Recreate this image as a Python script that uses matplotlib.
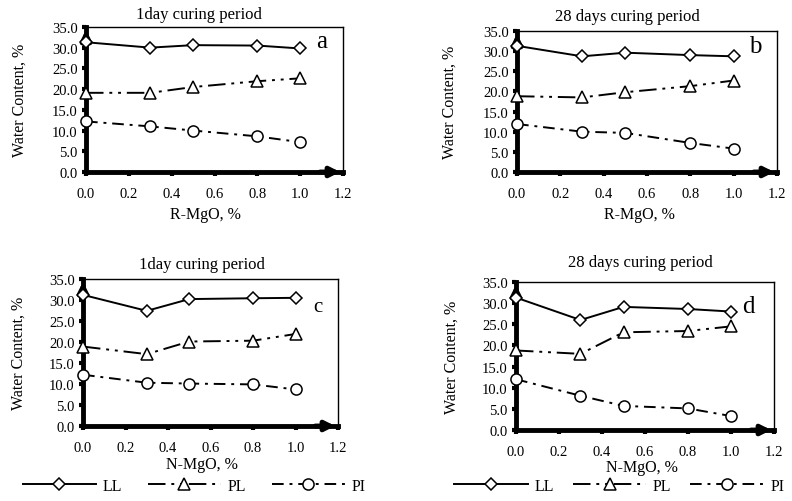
import matplotlib
matplotlib.use("Agg")
import matplotlib.pyplot as plt

plt.rcParams["font.family"] = ["Liberation Serif", "DejaVu Serif"]

MGO = [0.0, 0.3, 0.5, 0.8, 1.0]

# panel a: R-MgO, 1 day
LL_A = [31.3, 30.0, 30.6, 30.5, 29.8]
PL_A = [19.1, 19.1, 20.5, 21.9, 22.6]
PI_A = [12.2, 11.0, 10.0, 8.6, 7.2]
# panel b: R-MgO, 28 days
LL_B = [31.3, 28.7, 29.6, 29.0, 28.7]
PL_B = [18.8, 18.5, 19.8, 21.3, 22.7]
PI_B = [11.9, 10.0, 9.7, 7.2, 5.8]
# panel c: N-MgO, 1 day
LL_C = [31.2, 27.4, 30.2, 30.4, 30.5]
PL_C = [18.9, 17.1, 20.1, 20.3, 21.9]
PI_C = [12.2, 10.3, 10.1, 9.9, 8.7]
# panel d: N-MgO, 28 days
LL_D = [31.3, 26.0, 29.1, 28.6, 28.0]
PL_D = [18.8, 18.0, 23.1, 23.4, 24.5]
PI_D = [12.0, 8.1, 5.7, 5.1, 3.3]

PANELS = [
    ("a", "1day curing period", "R-MgO, %", LL_A, PL_A, PI_A),
    ("b", "28 days curing period", "R-MgO, %", LL_B, PL_B, PI_B),
    ("c", "1day curing period", "N-MgO, %", LL_C, PL_C, PI_C),
    ("d", "28 days curing period", "N-MgO, %", LL_D, PL_D, PI_D),
]

# axes rectangles (fig fraction) and label positions
RECTS = [
    [0.1086, 0.6554, 0.3245, 0.289],
    [0.6528, 0.6554, 0.3283, 0.281],
    [0.1048, 0.1494, 0.3220, 0.293],
    [0.6515, 0.1414, 0.3258, 0.295],
]
TITLE_POS = [(0.251, 0.970), (0.792, 0.966), (0.255, 0.472), (0.808, 0.476)]
XLAB_POS = [(0.259, 0.572), (0.808, 0.572), (0.255, 0.074), (0.810, 0.068)]
YLAB_X = [0.025, 0.568, 0.023, 0.570]
LETTER_POS = [(0.918, 0.90, 18), (0.915, 0.89, 18), (0.92, 0.81, 15), (0.90, 0.84, 18)]

PL_DASH = (0, (9, 3, 1.5, 3, 1.5, 3))
PI_DASH = (0, (6, 3, 1.5, 3))

fig = plt.figure(figsize=(7.92, 5.02), dpi=100)

for i, (letter, title, xlab, ll, pl, pi) in enumerate(PANELS):
    ax = fig.add_axes(RECTS[i])
    mk = dict(markerfacecolor="white", markeredgecolor="black", markeredgewidth=1.1,
              color="black", lw=1.4, clip_on=False, zorder=4)
    ax.plot(MGO, ll, marker="D", markersize=6, linestyle="-", label="LL", **mk)
    ax.plot(MGO, pl, marker="^", markersize=8, linestyle=PL_DASH, label="PL", **mk)
    ax.plot(MGO, pi, marker="o", markersize=8, linestyle=PI_DASH, label="PI", **mk)

    ax.set_xlim(0, 1.2)
    ax.set_ylim(0, 35)
    ax.set_xticks([0.0, 0.2, 0.4, 0.6, 0.8, 1.0, 1.2])
    ax.set_yticks(range(0, 36, 5))
    ax.xaxis.set_major_formatter(matplotlib.ticker.FormatStrFormatter("%.1f"))
    ax.yaxis.set_major_formatter(matplotlib.ticker.FormatStrFormatter("%.1f"))
    ax.tick_params(axis="both", direction="out", length=3, width=3, labelsize=10.5,
                   pad=3)
    ax.tick_params(axis="x", pad=8)

    for s in ("top", "right"):
        ax.spines[s].set_linewidth(1.0)
    ax.spines["left"].set_linewidth(3.5)
    ax.spines["bottom"].set_linewidth(3.5)

    # arrow heads on the main axes
    ax.annotate("", xy=(0, 1.0), xytext=(0, 0.88), xycoords="axes fraction",
                arrowprops=dict(arrowstyle="-|>", color="black", lw=3.5,
                                mutation_scale=14), annotation_clip=False)
    ax.annotate("", xy=(1.0, 0), xytext=(0.9, 0), xycoords="axes fraction",
                arrowprops=dict(arrowstyle="-|>", color="black", lw=3.5,
                                mutation_scale=14), annotation_clip=False)

    lx, ly, lsize = LETTER_POS[i]
    ax.text(lx, ly, letter, transform=ax.transAxes, fontsize=lsize,
            ha="center", va="center")

    fig.text(*TITLE_POS[i], title, fontsize=12, ha="center", va="center")
    fig.text(*XLAB_POS[i], xlab, fontsize=11.5, ha="center", va="center")
    fig.text(YLAB_X[i], RECTS[i][1] + RECTS[i][3] / 2, "Water Content, %",
             fontsize=11.5, rotation=90, ha="center", va="center")

    if letter in ("c", "d"):
        cx = 0.245 if letter == "c" else 0.782
        fig.legend(*ax.get_legend_handles_labels(), loc="center",
                   bbox_to_anchor=(cx, 0.03), ncol=3, frameon=False,
                   fontsize=11.5, handlelength=4.6,
                   columnspacing=1.6 if letter == "c" else 1.2,
                   handletextpad=0.4)

fig.savefig("out.png", dpi=100)
plt.close(fig)
